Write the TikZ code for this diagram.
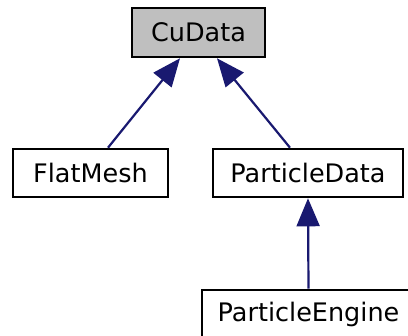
\documentclass[tikz,border=0pt]{standalone}
\usepackage{fontspec}
\setmainfont{DejaVu Sans}
\usetikzlibrary{arrows.meta}
\definecolor{edgeblue}{HTML}{191970}
\definecolor{boxgray}{HTML}{BFBFBF}
\tikzset{
  cls/.style={draw=black, line width=2.6pt, fill=white, inner sep=0pt, minimum height=48pt,
    font=\fontsize{25.5}{30}\selectfont, text=black},
  inh/.style={draw=edgeblue, line width=2.2pt, {Triangle[length=28pt,width=23pt,fill=edgeblue]}-}
}
\begin{document}
\begin{tikzpicture}[x=1pt,y=1pt]
\useasboundingbox (0,0) rectangle (408,336);
\clip (0,0) rectangle (408,336);
\fill[white] (0,0) rectangle (408,336);
\node[cls, fill=boxgray, minimum width=133pt, minimum height=49pt] (cu) at (198.5,303.5) {CuData};
\node[cls, minimum width=155pt] (fm) at (90.5,163) {FlatMesh};
\node[cls, minimum width=190pt] (pd) at (308,163) {ParticleData};
\node[cls, minimum width=213pt] (pe) at (308.5,22) {ParticleEngine};
\draw[inh] ([xshift=-18.5pt]cu.south) -- ([xshift=17.5pt]fm.north);
\draw[inh] ([xshift=18.5pt]cu.south) -- ([xshift=-18pt]pd.north);
\draw[inh] (pd.south) -- (pe.north);
\end{tikzpicture}
\end{document}
